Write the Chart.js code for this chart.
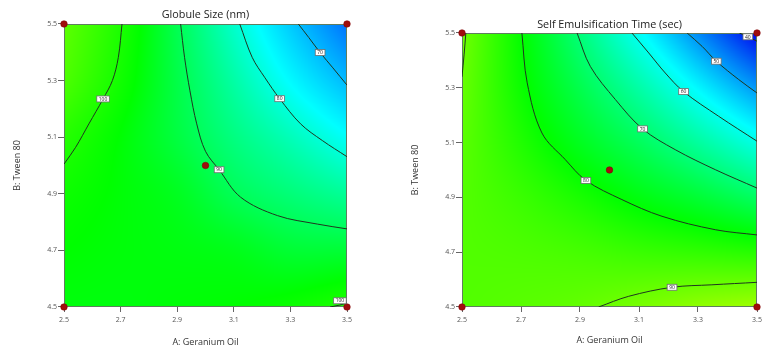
<!DOCTYPE html>
<html>
<head>
<meta charset="utf-8">
<script src="https://cdn.jsdelivr.net/npm/chart.js@4.4.1/dist/chart.umd.min.js"></script>
<style>
  body { margin: 0; background: #fff; }
  #wrap { position: relative; width: 769px; height: 360px; }
  canvas { position: absolute; top: 0; }
  #globuleChart { left: 0; }
  #emulsChart { left: 384px; }
</style>
</head>
<body>
<div id="wrap">
  <canvas id="globuleChart" width="384" height="360"></canvas>
  <canvas id="emulsChart" width="385" height="360"></canvas>
</div>
<script>
// Factor levels (also the nodes of the response grids)
const xTicks = [2.5, 2.7, 2.9, 3.1, 3.3, 3.5];   // A: Geranium Oil
const yTicks = [4.5, 4.7, 4.9, 5.1, 5.3, 5.5];   // B: Tween 80

// Design points: factorial corners + centre point
const designA = [2.5, 2.5, 3.5, 3.5, 3.0];
const designB = [4.5, 5.5, 4.5, 5.5, 5.0];

// Predicted globule size (nm); rows follow yTicks, columns follow xTicks
const globuleGrid = [
  [96.0, 96.0, 96.5, 97.0, 98.3, 100.7],
  [97.0, 96.3, 95.8, 95.0, 93.0, 92.8],
  [98.5, 96.5, 94.5, 90.3, 87.6, 85.1],
  [101.4, 96.8, 92.0, 87.0, 82.5, 77.4],
  [106.0, 98.9, 91.4, 84.1, 76.6, 69.6],
  [108.0, 100.2, 90.6, 81.0, 71.4, 62.0]
];

// Predicted self emulsification time (sec); same layout
const emulsGrid = [
  [87.6, 88.3, 89.3, 91.3, 93.5, 95.0],
  [87.6, 87.2, 86.5, 85.3, 84.5, 83.5],
  [87.8, 85.4, 82.3, 78.7, 75.5, 71.6],
  [88.5, 83.0, 77.4, 72.2, 66.4, 60.2],
  [89.6, 81.1, 73.4, 65.7, 57.4, 49.0],
  [90.7, 80.2, 69.5, 58.7, 47.9, 36.6]
];

// Contour lines, [A, B] pairs
const globule100a = [[2.705, 5.5], [2.692, 5.382], [2.671, 5.30], [2.638, 5.235], [2.588, 5.147], [2.541, 5.064], [2.5, 5.005]];
const globule90 = [[2.912, 5.5], [2.926, 5.382], [2.945, 5.264], [2.969, 5.147], [3.0, 5.05], [3.048, 4.985], [3.124, 4.888], [3.254, 4.823], [3.395, 4.793], [3.5, 4.776]];
const globule80 = [[3.121, 5.5], [3.165, 5.382], [3.21, 5.31], [3.262, 5.236], [3.336, 5.147], [3.413, 5.088], [3.5, 5.031]];
const globule70 = [[3.328, 5.5], [3.365, 5.452], [3.405, 5.399], [3.45, 5.345], [3.5, 5.284]];
const globule100b = [[3.44, 4.5], [3.475, 4.507], [3.5, 4.514]];

const emuls90a = [[2.513, 5.5], [2.507, 5.42], [2.5, 5.34]];
const emuls80 = [[2.703, 5.5], [2.721, 5.318], [2.771, 5.135], [2.85, 5.038], [2.92, 4.962], [3.042, 4.892], [3.178, 4.831], [3.359, 4.782], [3.5, 4.763]];
const emuls70 = [[2.89, 5.5], [2.935, 5.378], [3.02, 5.257], [3.112, 5.15], [3.223, 5.074], [3.359, 5.001], [3.5, 4.934]];
const emuls60 = [[3.076, 5.5], [3.133, 5.427], [3.189, 5.354], [3.251, 5.286], [3.37, 5.196], [3.5, 5.105]];
const emuls50 = [[3.263, 5.5], [3.314, 5.451], [3.362, 5.397], [3.438, 5.33], [3.5, 5.281]];
const emuls40 = [[3.44, 5.5], [3.469, 5.486], [3.5, 5.47]];
const emuls90b = [[2.963, 4.5], [3.065, 4.539], [3.212, 4.572], [3.347, 4.581], [3.5, 4.59]];

// Contour labels: [level, A, B]
const globuleLabels = [[100, 2.638, 5.235], [90, 3.048, 4.985], [80, 3.262, 5.236], [70, 3.405, 5.399], [100, 3.475, 4.522]];
const emulsLabels = [[80, 2.92, 4.962], [70, 3.112, 5.15], [60, 3.251, 5.286], [50, 3.362, 5.397], [40, 3.469, 5.486], [90, 3.212, 4.572]];

// Colour ramps (value -> rgb)
const globuleRamp = [[50, [0, 0, 255]], [77, [0, 255, 255]], [97, [0, 255, 0]], [127, [255, 255, 0]]];
const emulsRamp = [[36, [0, 0, 240]], [58, [0, 255, 255]], [80, [0, 255, 0]], [104, [255, 255, 0]]];

Chart.defaults.font.family = "'Open Sans', sans-serif";

function gridNode(grid, i, j) {
  const n = grid.length, m = grid[0].length;
  if (i < 0) return 2 * gridNode(grid, 0, j) - gridNode(grid, 1, j);
  if (i >= n) return 2 * gridNode(grid, n - 1, j) - gridNode(grid, n - 2, j);
  if (j < 0) return 2 * gridNode(grid, i, 0) - gridNode(grid, i, 1);
  if (j >= m) return 2 * gridNode(grid, i, m - 1) - gridNode(grid, i, m - 2);
  return grid[i][j];
}

function catmull(p0, p1, p2, p3, t) {
  return p1 + 0.5 * t * (p2 - p0 + t * (2 * p0 - 5 * p1 + 4 * p2 - p3 + t * (3 * (p1 - p2) + p3 - p0)));
}

// smooth (bicubic) read of the grid at (a, b)
function surfaceValue(grid, a, b) {
  const gx = (a - xTicks[0]) / (xTicks[1] - xTicks[0]);
  const gy = (b - yTicks[0]) / (yTicks[1] - yTicks[0]);
  const j0 = Math.min(Math.max(Math.floor(gx), 0), grid[0].length - 2);
  const i0 = Math.min(Math.max(Math.floor(gy), 0), grid.length - 2);
  const tx = gx - j0, ty = gy - i0;
  const col = [];
  for (let r = -1; r <= 2; r++) {
    const i = i0 + r;
    col.push(catmull(gridNode(grid, i, j0 - 1), gridNode(grid, i, j0), gridNode(grid, i, j0 + 1), gridNode(grid, i, j0 + 2), tx));
  }
  return catmull(col[0], col[1], col[2], col[3], ty);
}

function rampColour(ramp, v) {
  if (v <= ramp[0][0]) return ramp[0][1];
  for (let k = 1; k < ramp.length; k++) {
    if (v <= ramp[k][0]) {
      const t = (v - ramp[k - 1][0]) / (ramp[k][0] - ramp[k - 1][0]);
      const c0 = ramp[k - 1][1], c1 = ramp[k][1];
      return [0, 1, 2].map(n => Math.round(c0[n] + (c1[n] - c0[n]) * t));
    }
  }
  return ramp[ramp.length - 1][1];
}

// paints the response surface under the datasets, plus frame and contour labels
function surfacePlugin(grid, ramp, labels) {
  return {
    id: 'surface',
    beforeDatasetsDraw(chart) {
      const { ctx, chartArea: ca, scales } = chart;
      const w = Math.round(ca.right - ca.left), h = Math.round(ca.bottom - ca.top);
      const off = document.createElement('canvas');
      off.width = w; off.height = h;
      const octx = off.getContext('2d');
      const img = octx.createImageData(w, h);
      for (let py = 0; py < h; py++) {
        const b = scales.y.getValueForPixel(ca.top + py + 0.5);
        for (let px = 0; px < w; px++) {
          const a = scales.x.getValueForPixel(ca.left + px + 0.5);
          const c = rampColour(ramp, surfaceValue(grid, a, b));
          const k = (py * w + px) * 4;
          img.data[k] = c[0]; img.data[k + 1] = c[1]; img.data[k + 2] = c[2]; img.data[k + 3] = 255;
        }
      }
      octx.putImageData(img, 0, 0);
      ctx.drawImage(off, ca.left, ca.top, w, h);
      ctx.save();
      ctx.strokeStyle = '#5f7d5f';
      ctx.lineWidth = 1;
      ctx.strokeRect(Math.round(ca.left) + 0.5, Math.round(ca.top) + 0.5, w - 1, h - 1);
      ctx.restore();
    },
    afterDatasetsDraw(chart) {
      const { ctx, scales } = chart;
      ctx.save();
      ctx.font = "5px 'Open Sans', sans-serif";
      ctx.textAlign = 'center';
      ctx.textBaseline = 'middle';
      labels.forEach(([level, a, b]) => {
        const x = scales.x.getPixelForValue(a), y = scales.y.getPixelForValue(b);
        const txt = String(level);
        const bw = ctx.measureText(txt).width + 4, bh = 6;
        ctx.fillStyle = '#ffffff';
        ctx.fillRect(x - bw / 2, y - bh / 2, bw, bh);
        ctx.strokeStyle = '#6d6d6d';
        ctx.lineWidth = 0.8;
        ctx.strokeRect(x - bw / 2, y - bh / 2, bw, bh);
        ctx.fillStyle = '#222';
        ctx.fillText(txt, x, y + 0.3);
      });
      ctx.restore();
    }
  };
}

function buildPanel(canvasId, spec) {
  const datasets = [{
    label: 'Design points',
    data: designA.map((a, i) => ({ x: a, y: designB[i] })),
    showLine: false,
    pointRadius: 3.3,
    pointBackgroundColor: '#a00d0d',
    pointBorderColor: '#7c0000',
    pointBorderWidth: 0.5,
    clip: false
  }];
  spec.contours.forEach(pts => datasets.push({
    data: pts.map(p => ({ x: p[0], y: p[1] })),
    showLine: true,
    pointRadius: 0,
    borderColor: '#1f361f',
    borderWidth: 1,
    tension: 0.35,
    fill: false
  }));

  return new Chart(document.getElementById(canvasId), {
    type: 'scatter',
    data: { datasets: datasets },
    plugins: [surfacePlugin(spec.grid, spec.ramp, spec.labels)],
    options: {
      responsive: false,
      animation: false,
      layout: { padding: { left: 0, right: spec.padRight, top: 0, bottom: 0 } },
      plugins: {
        legend: { display: false },
        tooltip: { enabled: false },
        title: {
          display: true,
          text: spec.title,
          fullSize: false,
          color: '#222',
          font: { size: 10.8, weight: 'normal', lineHeight: 1.2 },
          padding: spec.titlePad
        }
      },
      scales: {
        x: {
          type: 'linear',
          min: 2.5,
          max: 3.5,
          afterBuildTicks: s => { s.ticks = xTicks.map(v => ({ value: v })); },
          afterFit: s => { s.height = 53; },
          ticks: { callback: v => v.toFixed(1), font: { size: 7 }, color: '#555', padding: 4, autoSkip: false, maxRotation: 0 },
          grid: { drawOnChartArea: false, tickLength: 5, color: '#666' },
          border: { display: false },
          title: { display: true, text: 'A: Geranium Oil', color: '#333', font: { size: 9 }, padding: { top: 0, bottom: spec.xTitlePad } }
        },
        y: {
          type: 'linear',
          min: 4.5,
          max: 5.5,
          afterBuildTicks: s => { s.ticks = yTicks.map(v => ({ value: v })); },
          afterFit: s => { s.width = spec.yWidth; },
          ticks: { callback: v => v.toFixed(1), font: { size: 7 }, color: '#555', padding: 1, autoSkip: false },
          grid: { drawOnChartArea: false, tickLength: 6, color: '#666' },
          border: { display: false },
          title: { display: true, text: 'B: Tween 80', color: '#333', font: { size: 9 }, padding: { top: spec.yTitlePad, bottom: 0 } }
        }
      }
    }
  });
}

buildPanel('globuleChart', {
  title: 'Globule Size (nm)',
  grid: globuleGrid,
  ramp: globuleRamp,
  labels: globuleLabels,
  contours: [globule100a, globule90, globule80, globule70, globule100b],
  padRight: 37,
  yWidth: 64,
  titlePad: { top: 8.5, bottom: 2.5 },
  yTitlePad: 11.6,
  xTitlePad: 12.6
});

buildPanel('emulsChart', {
  title: 'Self Emulsification Time (sec)',
  grid: emulsGrid,
  ramp: emulsRamp,
  labels: emulsLabels,
  contours: [emuls90a, emuls80, emuls70, emuls60, emuls50, emuls40, emuls90b],
  padRight: 12,
  yWidth: 78,
  titlePad: { top: 18.5, bottom: 1.5 },
  yTitlePad: 25.6,
  xTitlePad: 14.6
});
</script>
</body>
</html>
